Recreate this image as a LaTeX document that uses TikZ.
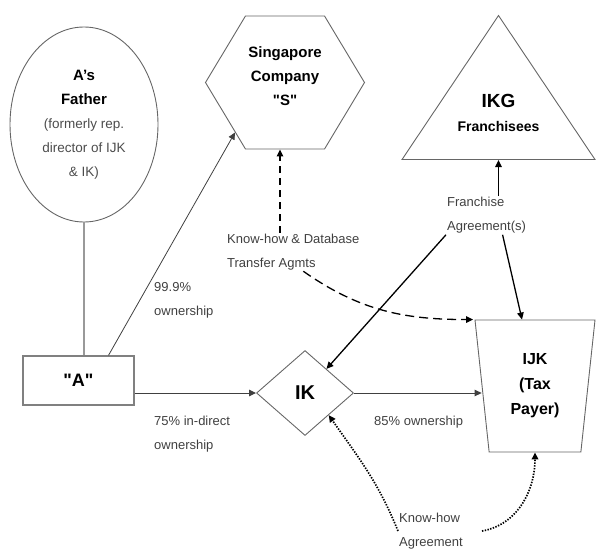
\documentclass[tikz,border=0pt]{standalone}
\usepackage{fontspec}
\setmainfont{Liberation Sans}
\usetikzlibrary{positioning}
\usetikzlibrary{shapes.geometric,shapes.symbols,arrows.meta}

\newcommand{\sub}[1]{{\mdseries\color{black!70}\fontsize{13.5}{24}\selectfont #1}}
\newcommand{\up}[1]{\raisebox{12pt}[\height][\depth]{#1}}

\begin{document}
\begin{tikzpicture}[x=1pt,y=1pt,
  >={Triangle[length=7pt,width=6.5pt]},
  shp/.style={draw=black!60,line width=0.9pt,align=center,inner sep=0pt,
    font=\bfseries\fontsize{15}{24}\selectfont},
  lbl/.style={align=left,text=black!75,inner sep=1pt,
    font=\fontsize{13}{24}\selectfont},
  own/.style={->,draw=black!75,line width=0.8pt},
  agmt/.style={->,line width=1.3pt},
  kdash/.style={->,line width=1.3pt,dash pattern=on 9pt off 5pt},
  kdot/.style={->,line width=1.7pt,dash pattern=on 1.4pt off 1.4pt}]
\useasboundingbox (0,0) rectangle (596,-548);
% parties
\node[shp,ellipse,minimum width=148,minimum height=195] (father) at (84,-124.5)
  {A's\\Father\\\sub{(formerly rep.}\\\sub{director of IJK}\\\sub{\& IK)}};
\node[shp,signal,signal to=east and west,signal pointer angle=118,
  minimum width=159,minimum height=133,text depth=13pt] (sco) at (285,-82.5)
  {Singapore\\Company\\\textquotedbl S\textquotedbl};
\node[shp,isosceles triangle,isosceles triangle stretches,shape border rotate=90,
  minimum width=193,minimum height=144,anchor=lower side,
  font=\bfseries\fontsize{14}{24}\selectfont] (ikg) at (498.5,-160)
  {\up{\fontsize{19}{24}\selectfont IKG}\\\up{Franchisees}};
\node[shp,rectangle,line width=1.3pt,draw=black!50,minimum width=111,minimum height=49,
  font=\bfseries\fontsize{18}{24}\selectfont] (abox) at (78.5,-380.5)
  {\textquotedbl A\textquotedbl};
\node[shp,diamond,aspect=1.14,minimum width=97,minimum height=85,
  font=\bfseries\fontsize{20}{24}\selectfont] (ik) at (305,-393) {IK};
\node[shp,trapezium,shape border rotate=180,trapezium stretches body,
  trapezium left angle=77.6,trapezium right angle=77.6,minimum width=120,minimum height=132,
  font=\bfseries\fontsize{16}{25}\selectfont] (ijk) at (535,-386) {IJK\\(Tax\\Payer)};
% labels
\node[lbl,anchor=west] (own1) at (153,-300) {99.9\%\\ownership};
\node[lbl,anchor=west] (own2) at (153,-434) {75\% in-direct\\ownership};
\node[lbl,anchor=west] (own3) at (373,-422) {85\% ownership};
\node[lbl,anchor=west] (kdb) at (226,-252) {Know-how \& Database\\Transfer Agmts};
\node[lbl,anchor=west] (fra) at (446,-215.5) {Franchise\\Agreement(s)};
\node[lbl,anchor=west] (kha) at (398,-531) {Know-how\\Agreement};
% links
\draw[line width=1.6pt,black!40] (father.south) -- (father.south |- abox.north);
\draw[own] ([xshift=30pt]abox.north) -- (sco.225);
\draw[own,line width=1pt] (abox.east |- ik.west) -- (ik.west);
\draw[own,line width=1pt] (ik.east) -- (ijk.west |- ik.east);
\draw[agmt] (fra.north -| ikg.lower side) -- (ikg.lower side);
\draw[agmt] (fra.south west) -- (ik);
\draw[agmt] ([xshift=16pt]fra.south) -- ([xshift=-13pt]ijk.north);
\draw[kdash,dash pattern=on 7pt off 5pt] ([xshift=-5pt]sco.south |- kdb.north) -- ([xshift=-5pt]sco.south);
\draw[kdash] ([xshift=10pt]kdb.south) to[out=-35,in=180] ([xshift=-62pt]ijk.north);
\draw[kdot] (kha.west) to[out=112,in=-55] (ik.-43);
\draw[kdot] ([xshift=18pt]kha.east) to[out=10,in=-90] (ijk.south);
\end{tikzpicture}
\end{document}
